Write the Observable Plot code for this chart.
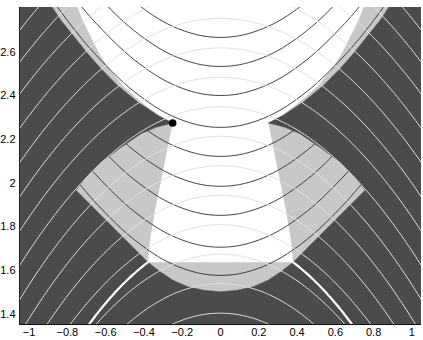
<!DOCTYPE html>
<html><head><meta charset="utf-8">
<script src="https://cdn.jsdelivr.net/npm/d3@7"></script>
<script src="https://cdn.jsdelivr.net/npm/@observablehq/plot@0.6"></script>
<style>body{margin:0;background:#fff}</style>
</head><body><div id="chart"></div>
<script>
// ---- data ----
const xTicks = [-1, -0.8, -0.6, -0.4, -0.2, 0, 0.2, 0.4, 0.6, 0.8, 1];
const yTicks = [1.4, 1.6, 1.8, 2, 2.2, 2.4, 2.6];

// black level curves (U-shaped): height at x = 0
const levelVertexY = [2.668, 2.535, 2.402, 2.256, 2.123, 1.986, 1.853, 1.707, 1.578];
// common profile of the black curves: rise above the vertex at |x|
const levelShapeX    = [0, 0.1, 0.2, 0.3, 0.4, 0.5, 0.6, 0.7, 0.8, 0.9, 1.0, 1.1];
const levelShapeRise = [0, 0.008, 0.033, 0.073, 0.13, 0.2, 0.285, 0.38, 0.49, 0.61, 0.74, 0.88];

// light dome curves: height at x = 0 and curvature
const domeVertexY = [1.405, 1.54, 1.675, 1.81, 1.945, 2.08, 2.215, 2.35, 2.485, 2.62, 2.755, 2.89, 3.025, 3.16, 3.295, 3.43, 3.565];
const domeCurv    = [0.80, 0.78, 0.76, 0.74, 0.72, 0.70, 0.68, 0.66, 0.64, 0.62, 0.60, 0.58, 0.56, 0.55, 0.54, 0.53, 0.52];
// bold white boundary arc
const boldVertexY = 1.762, boldCurv = 0.865, boldFromX = 0.379;

// region outlines, left half (mirrored for the right half)
const hornUpper = [[-0.897,2.83],[-0.833,2.746],[-0.763,2.670],[-0.693,2.593],[-0.624,2.525],[-0.537,2.448],[-0.432,2.372],[-0.328,2.311],[-0.250,2.276]];
const hornLower = [[-0.337,2.256],[-0.415,2.227],[-0.520,2.164],[-0.624,2.096],[-0.702,2.027],[-0.755,1.968]];
const sectorCorner = [[-0.379,1.638]];
const bowl = [[-0.311,1.592],[-0.248,1.556],[-0.170,1.526],[-0.086,1.510],[0,1.503]];
const stripInner = [[-0.758,2.83],[-0.720,2.746],[-0.676,2.669],[-0.633,2.593],[-0.581,2.525],[-0.511,2.448],[-0.415,2.372],[-0.320,2.311],[-0.250,2.276]];
const whiteEdge = [[-0.274,2.173],[-0.305,2.036],[-0.342,1.876],[-0.368,1.739],[-0.379,1.638]];
const optimum = [{x: -0.25, y: 2.276}];

// ---- build shapes ----
const mirror = pts => pts.slice().reverse().map(([x,y]) => [-x, y]);
const lightLeft = [...hornUpper, ...hornLower, ...sectorCorner, ...bowl];
const lightPoly = [...lightLeft, ...mirror(lightLeft.slice(0, -1))];
const whiteLeft = [...stripInner, ...whiteEdge];
const whitePoly = [...whiteLeft, ...mirror(whiteLeft)];
const darkPoly = [[-1.2,2.83], ...lightPoly, [1.2,2.83], [1.2,1.3], [-1.2,1.3]];

const blackLines = [];
levelVertexY.forEach((v, i) => {
  const half = levelShapeX.map((x, k) => ({x, y: v + levelShapeRise[k], id: i}));
  const left = half.slice(1).reverse().map(d => ({x: -d.x, y: d.y, id: i}));
  blackLines.push(...left, ...half);
});

const xs = d3.range(-1.1, 1.1001, 0.01);
const domeLines = [];
domeVertexY.forEach((L, i) => xs.forEach(x => domeLines.push({x, y: L - domeCurv[i] * x * x, id: i})));
const boldLines = [];
xs.filter(x => x <= -boldFromX).forEach(x => boldLines.push({x, y: boldVertexY - boldCurv * x * x, id: "l"}));
xs.filter(x => x >= boldFromX).forEach(x => boldLines.push({x, y: boldVertexY - boldCurv * x * x, id: "r"}));

const fmt = d => (d < 0 ? "\u2212" + Math.abs(d) : String(d));

const chart = Plot.plot({
  width: 423, height: 340,
  marginLeft: 19, marginRight: 2, marginTop: 7, marginBottom: 16,
  style: {fontFamily: "'Liberation Sans', Arial, sans-serif", fontSize: "11px", color: "#000", background: "#fff"},
  x: {domain: [-1.05, 1.05], label: null},
  y: {domain: [1.353, 2.805], label: null},
  marks: [
    Plot.line(lightPoly, {x: d => d[0], y: d => d[1], fill: "#c8c8c8", stroke: "none", clip: true}),
    Plot.line(whitePoly, {x: d => d[0], y: d => d[1], fill: "#ffffff", stroke: "none", clip: true}),
    Plot.line(blackLines, {x: "x", y: "y", z: "id", stroke: "#2e2e2e", strokeWidth: 0.9, curve: "natural", clip: true}),
    Plot.line(darkPoly, {x: d => d[0], y: d => d[1], fill: "#4b4b4b", stroke: "#4b4b4b", strokeWidth: 0.5, clip: true}),
    Plot.line(domeLines, {x: "x", y: "y", z: "id", stroke: "#e0e0e0", strokeWidth: 1, clip: true}),
    Plot.line(boldLines, {x: "x", y: "y", z: "id", stroke: "#ffffff", strokeWidth: 2.2, clip: true}),
    Plot.dot(optimum, {x: "x", y: "y", r: 3.8, fill: "#000", stroke: "none"}),
    Plot.ruleY([1.353], {stroke: "#111", strokeWidth: 1}),
    Plot.ruleX([-1.05], {stroke: "#222", strokeWidth: 1}),
    Plot.axisX({ticks: xTicks, tickSize: 0, tickPadding: 4, tickFormat: fmt}),
    Plot.axisY({ticks: yTicks, tickSize: 0, tickPadding: 4, tickFormat: fmt})
  ]
});
document.getElementById("chart").append(chart);
</script>
</body></html>
